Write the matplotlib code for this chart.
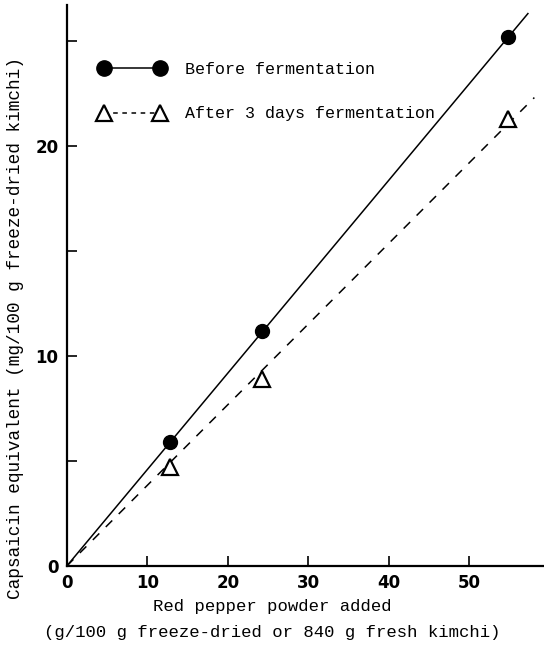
import matplotlib.pyplot as plt
from matplotlib.ticker import MultipleLocator

# red pepper powder added (g/100 g freeze-dried kimchi)
pepper = [12.8, 24.3, 54.8]
# capsaicin equivalent (mg/100 g freeze-dried kimchi)
before = [5.9, 11.2, 25.2]
after = [4.7, 8.9, 21.3]

# regression lines through origin, end points
before_line_x = [0, 57.3]
before_line_y = [0, 26.3]
after_line_x = [0, 58.1]
after_line_y = [0, 22.3]

mono = ["Liberation Mono", "DejaVu Sans Mono"]
tickfont = ["Liberation Sans Narrow", "DejaVu Sans"]

fig = plt.figure(figsize=(5.44, 6.46), dpi=100)
ax = fig.add_axes([0.123, 0.124, 0.877, 0.868])

ax.plot(before_line_x, before_line_y, color="black", lw=1.1)
ax.plot(after_line_x, after_line_y, color="black", lw=1.1, ls=(0, (6, 6)))
ax.plot(pepper, before, "o", color="black", ms=10)
ax.plot(pepper, after, "^", mfc="white", mec="black", mew=1.6, ms=11)

# legend handles: marker - line - marker
h1, = ax.plot([], [], "o-", color="black", ms=11, lw=1.1)
h2, = ax.plot([], [], "^", ls=(0, (3, 3)), color="black", mfc="white",
              mew=1.6, ms=11, lw=1.1)
ax.legend([h1, h2], ["Before fermentation", "After 3 days fermentation"],
          numpoints=2, handlelength=4.0, frameon=False, loc="upper left",
          bbox_to_anchor=(0.035, 0.925), labelspacing=1.75, handletextpad=1.2,
          prop={"family": mono, "size": 12})

ax.set_xlim(0, 59.3)
ax.set_ylim(0, 26.7)
ax.xaxis.set_major_locator(MultipleLocator(10))
ax.yaxis.set_major_locator(MultipleLocator(10))
ax.yaxis.set_minor_locator(MultipleLocator(5))
ax.tick_params(direction="in", length=7, width=1.2, labelsize=12, pad=6)
ax.tick_params(which="minor", direction="in", length=7, width=1.2)
for lab in ax.get_xticklabels() + ax.get_yticklabels():
    lab.set_family(tickfont)
    lab.set_fontweight("bold")

for s in ["top", "right"]:
    ax.spines[s].set_visible(False)
for s in ["left", "bottom"]:
    ax.spines[s].set_linewidth(1.6)

ax.set_xlabel("Red pepper powder added\n(g/100 g freeze-dried or 840 g fresh kimchi)",
              family=mono, fontsize=12.4, linespacing=1.9)
ax.set_ylabel("Capsaicin equivalent (mg/100 g freeze-dried kimchi)",
              family=mono, fontsize=12.8)
ax.xaxis.set_label_coords(0.43, -0.059, transform=ax.transAxes)
ax.xaxis.label.set_va("top")
ax.yaxis.set_label_coords(-0.09, 0.424, transform=ax.transAxes)

fig.savefig("out.png", dpi=100)
